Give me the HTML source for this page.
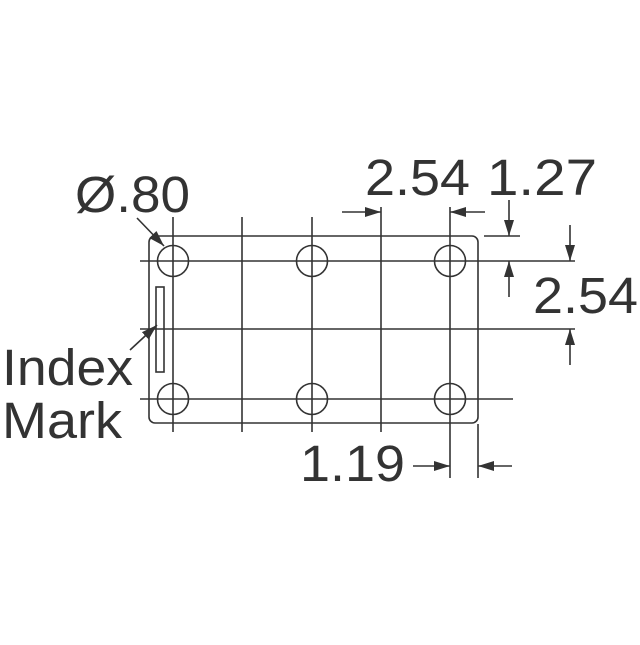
<!DOCTYPE html>
<html><head><style>html,body{margin:0;padding:0;background:#fff}</style></head><body>
<svg width="640" height="640" viewBox="0 0 640 640" xmlns="http://www.w3.org/2000/svg">
<defs>
<marker id="a" markerWidth="16" markerHeight="10" refX="16" refY="5" orient="auto" markerUnits="userSpaceOnUse">
<path d="M0,0 L16,5 L0,10 Z" fill="#333"/></marker>
</defs>
<g stroke="#333" stroke-width="1.6" fill="none">
<rect x="149" y="236" width="329" height="187" rx="6"/>
<line x1="173" y1="217" x2="173" y2="432"/>
<line x1="242" y1="217" x2="242" y2="432"/>
<line x1="312" y1="217" x2="312" y2="432"/>
<line x1="381" y1="207" x2="381" y2="432"/>
<line x1="450" y1="207" x2="450" y2="478"/>
<line x1="478" y1="424" x2="478" y2="478"/>
<line x1="140" y1="261" x2="575" y2="261"/>
<line x1="140" y1="329" x2="575" y2="329"/>
<line x1="140" y1="399" x2="513" y2="399"/>
<line x1="484" y1="236" x2="520" y2="236"/>
<circle cx="173" cy="261" r="15.5"/><circle cx="312" cy="261" r="15.5"/><circle cx="450" cy="261" r="15.5"/>
<circle cx="173" cy="399" r="15.5"/><circle cx="312" cy="399" r="15.5"/><circle cx="450" cy="399" r="15.5"/>
<rect x="156" y="287" width="8" height="85"/>
<line x1="342" y1="212" x2="381" y2="212" marker-end="url(#a)"/>
<line x1="485" y1="212" x2="450" y2="212" marker-end="url(#a)"/>
<line x1="509" y1="200" x2="509" y2="236" marker-end="url(#a)"/>
<line x1="509" y1="297" x2="509" y2="261" marker-end="url(#a)"/>
<line x1="570" y1="225" x2="570" y2="261" marker-end="url(#a)"/>
<line x1="570" y1="365" x2="570" y2="329" marker-end="url(#a)"/>
<line x1="413" y1="466" x2="450" y2="466" marker-end="url(#a)"/>
<line x1="512" y1="466" x2="478" y2="466" marker-end="url(#a)"/>
<line x1="137" y1="218" x2="164" y2="246" marker-end="url(#a)"/>
<line x1="130" y1="350" x2="157" y2="325" marker-end="url(#a)"/>
</g>
<g fill="#333" font-family="Liberation Sans, sans-serif" font-size="51">
<text x="75" y="212" textLength="115" lengthAdjust="spacingAndGlyphs">Ø.80</text>
<text x="365" y="195" textLength="105" lengthAdjust="spacingAndGlyphs">2.54</text>
<text x="487" y="195" textLength="110" lengthAdjust="spacingAndGlyphs">1.27</text>
<text x="533" y="313" textLength="105" lengthAdjust="spacingAndGlyphs">2.54</text>
<text x="2" y="385" textLength="131" lengthAdjust="spacingAndGlyphs">Index</text>
<text x="2" y="438" textLength="120" lengthAdjust="spacingAndGlyphs">Mark</text>
<text x="300" y="481" textLength="105" lengthAdjust="spacingAndGlyphs">1.19</text>
</g>
</svg>
</body></html>
